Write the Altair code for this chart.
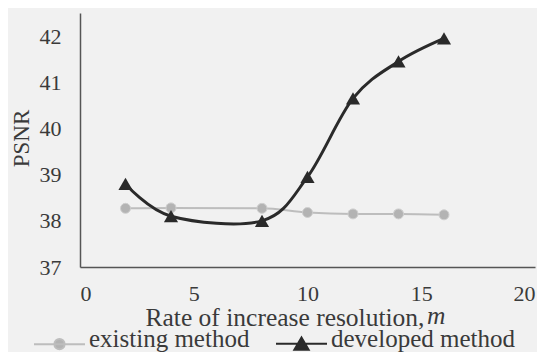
import altair as alt
import pandas as pd

rates = [2, 4, 8, 10, 12, 14, 16]
existing = [38.27, 38.28, 38.27, 38.18, 38.15, 38.15, 38.13]
developed = [38.8, 38.1, 38.0, 38.95, 40.65, 41.45, 41.95]
series_names = ["existing method", "developed method"]
x_ticks = [0, 5, 10, 15, 20]
y_ticks = [37, 38, 39, 40, 41, 42]
x_title = "Rate of increase resolution,"
x_title_var = ["m"]

df = pd.DataFrame({
    "m": rates + rates,
    "psnr": existing + developed,
    "series": [series_names[0]] * len(rates) + [series_names[1]] * len(rates),
})

FONT = "Liberation Serif"
TXT = "#3a3a3a"
GRAY_LINE = "#bdbdbd"
GRAY_PT = "#b3b3b3"
DARK = "#2a2a2a"

x = alt.X("m:Q", scale=alt.Scale(domain=[0, 20], nice=False),
          axis=alt.Axis(values=x_ticks, title=x_title, labelPadding=16,
                        labelFont=FONT, labelFontSize=22,
                        titleAlign="right", titleAnchor="start", titleX=344, titleY=58,
                        titleBaseline="alphabetic", titleFontSize=25.5))
y = alt.Y("psnr:Q", scale=alt.Scale(domain=[37, 42.5], nice=False, zero=False),
          axis=alt.Axis(values=y_ticks, title="PSNR", labelPadding=19,
                        labelFont=FONT, labelFontSize=22,
                        titleX=-59, titleY=125, titleAlign="center",
                        titleBaseline="middle", titleAngle=270, titleFontSize=23))

base = alt.Chart(df).encode(x=x, y=y)
ex = base.transform_filter(alt.datum.series == series_names[0])
dv = base.transform_filter(alt.datum.series == series_names[1])

ex_line = ex.mark_line(color=GRAY_LINE, strokeWidth=2, interpolate="monotone")
ex_pts = ex.mark_point(shape="circle", filled=True, size=100, fill=GRAY_PT,
                       stroke="#cfcfcf", strokeWidth=1, opacity=1)
dv_line = dv.mark_line(color=DARK, strokeWidth=3, interpolate="cardinal", tension=0)
dv_pts = dv.mark_point(shape="triangle-up", filled=True, size=200, color=DARK, opacity=1)

var_text = alt.Chart(pd.DataFrame({"t": x_title_var})).mark_text(
    font=FONT, fontSize=25.5, fontStyle="italic", color=TXT, align="left",
    baseline="alphabetic").encode(text="t:N", x=alt.value(347), y=alt.value(311))

ex_path = "M-1,-0.12L1,-0.12M-0.2,-0.12A0.2,0.2 0 1,1 0.2,-0.12A0.2,0.2 0 1,1 -0.2,-0.12Z"
dv_path = "M-1,-0.12L1,-0.12M0,-0.36L0.28,0.12L-0.28,0.12Z"

leg = alt.Legend(orient="none", legendX=-47, legendY=307, direction="horizontal",
                 columns=2, title=None, labelFont=FONT, labelFontSize=25,
                 labelColor=TXT, symbolSize=2601, symbolStrokeWidth=2,
                 labelBaseline="alphabetic", labelLimit=400,
                 labelOffset=3, columnPadding=22, padding=0)

legend_layer = alt.Chart(df).transform_filter("false").mark_point(
    filled=True, opacity=1).encode(
    fill=alt.Fill("series:N", scale=alt.Scale(domain=series_names, range=[GRAY_PT, DARK]), legend=leg),
    stroke=alt.Stroke("series:N", scale=alt.Scale(domain=series_names, range=[GRAY_LINE, DARK]), legend=leg),
    shape=alt.Shape("series:N", scale=alt.Scale(domain=series_names, range=[ex_path, dv_path]), legend=leg),
)

chart = alt.layer(ex_line, ex_pts, dv_line, dv_pts, var_text, legend_layer).properties(
    width=455, height=254,
    padding={"left": 72, "top": 5, "right": 2, "bottom": 85},
    autosize=alt.AutoSizeParams(type="none"),
    background="#f1f1f1",
).configure(
    font=FONT,
).configure_view(stroke=None).configure_axis(
    domainColor="#555555", domainWidth=1.5, ticks=False, grid=False,
    labelColor=TXT, titleFont=FONT, titleFontWeight="normal", titleColor=TXT,
)

chart.save("out.html", embed_options={"renderer": "svg", "actions": False})
